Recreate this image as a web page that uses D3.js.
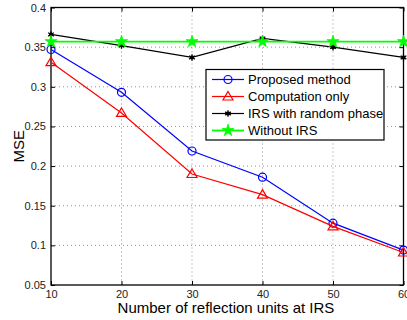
<html>
<head>
  <script src="https://d3js.org/d3.v7.min.js"></script>
  <style>
    body { margin: 0; background: #fff; }
    text { font-family: "Liberation Sans", Arial, sans-serif; }
  </style>
</head>
<body>
<div id="chart"></div>
<script>
  var units = [10, 20, 30, 40, 50, 60];
  var proposed = [0.347, 0.293, 0.219, 0.186, 0.128, 0.094];
  var computation = [0.331, 0.267, 0.190, 0.164, 0.124, 0.091];
  var randomPhase = [0.366, 0.352, 0.337, 0.361, 0.350, 0.337];
  var withoutIRS = [0.357, 0.357, 0.357, 0.357, 0.357, 0.357];
  var yTicks = [0.05, 0.1, 0.15, 0.2, 0.25, 0.3, 0.35, 0.4];
  var yTickLabels = ["0.05", "0.1", "0.15", "0.2", "0.25", "0.3", "0.35", "0.4"];
  var legendNames = ["Proposed method", "Computation only", "IRS with random phase", "Without IRS"];

  var width = 407, height = 320;
  var plotLeft = 51, plotRight = 403.5, plotTop = 7.5, plotBottom = 285;

  var svg = d3.select("#chart").append("svg")
    .attr("width", width).attr("height", height);

  var x = d3.scaleLinear().domain([10, 60]).range([plotLeft, plotRight]);
  var y = d3.scaleLinear().domain([0.05, 0.4]).range([plotBottom, plotTop]);

  // grid
  svg.selectAll("line.vgrid").data(units.slice(1, -1)).enter().append("line")
    .attr("x1", function(d){ return x(d); }).attr("x2", function(d){ return x(d); })
    .attr("y1", plotTop).attr("y2", plotBottom)
    .attr("stroke", "#777").attr("stroke-width", 0.8).attr("stroke-dasharray", "1,3");
  svg.selectAll("line.hgrid").data(yTicks.slice(1, -1)).enter().append("line")
    .attr("y1", function(d){ return y(d); }).attr("y2", function(d){ return y(d); })
    .attr("x1", plotLeft).attr("x2", plotRight)
    .attr("stroke", "#777").attr("stroke-width", 0.8).attr("stroke-dasharray", "1,3");

  // axes (ticks inside)
  svg.append("g").attr("transform", "translate(0," + plotBottom + ")")
    .call(d3.axisBottom(x).tickValues(units).tickSize(-4).tickPadding(5));
  svg.append("g").attr("transform", "translate(" + plotLeft + ",0)")
    .call(d3.axisLeft(y).tickValues(yTicks).tickSize(-4).tickPadding(5)
      .tickFormat(function(d, i){ return yTickLabels[i]; }));
  svg.append("g").attr("transform", "translate(0," + plotTop + ")")
    .call(d3.axisTop(x).tickValues(units).tickSize(-4).tickFormat(""));
  svg.append("g").attr("transform", "translate(" + plotRight + ",0)")
    .call(d3.axisRight(y).tickValues(yTicks).tickSize(-4).tickFormat(""));
  svg.selectAll(".domain").remove();
  svg.selectAll(".tick line").attr("stroke", "#000");
  svg.selectAll(".tick text").style("font-size", "11px").attr("fill", "#222");

  svg.append("rect").attr("x", plotLeft).attr("y", plotTop)
    .attr("width", plotRight - plotLeft).attr("height", plotBottom - plotTop)
    .attr("fill", "none").attr("stroke", "#000").attr("stroke-width", 1.3);

  var line = d3.line().x(function(d, i){ return x(units[i]); }).y(function(d){ return y(d); });

  var series = [
    { vals: proposed, color: "#0000ff", marker: "circle" },
    { vals: computation, color: "#ff0000", marker: "triangle" },
    { vals: randomPhase, color: "#000000", marker: "dot" },
    { vals: withoutIRS, color: "#00ff00", marker: "star" }
  ];

  function drawMarker(g, type, cx, cy, color) {
    if (type == "circle") {
      g.append("circle").attr("cx", cx).attr("cy", cy).attr("r", 4)
        .attr("fill", "none").attr("stroke", color).attr("stroke-width", 1.2);
    } else if (type == "triangle") {
      g.append("path").attr("d", "M" + cx + "," + (cy - 5) + "L" + (cx + 5) + "," + (cy + 3.5) + "L" + (cx - 5) + "," + (cy + 3.5) + "Z")
        .attr("fill", "none").attr("stroke", color).attr("stroke-width", 1.2);
    } else if (type == "dot") {
      g.append("path").attr("d", d3.symbol(d3.symbolAsterisk, 30)())
        .attr("transform", "translate(" + cx + "," + cy + ")")
        .attr("fill", "none").attr("stroke", color).attr("stroke-width", 1.3);
      g.append("circle").attr("cx", cx).attr("cy", cy).attr("r", 2).attr("fill", color);
    } else {
      g.append("path").attr("d", d3.symbol(d3.symbolStar, 45)())
        .attr("transform", "translate(" + cx + "," + cy + ")")
        .attr("fill", color).attr("stroke", color).attr("stroke-width", 0.8);
    }
  }

  var plot = svg.append("g");
  series.forEach(function(s){
    plot.append("path").datum(s.vals).attr("d", line)
      .attr("fill", "none").attr("stroke", s.color).attr("stroke-width", s.marker == "star" ? 1.8 : 1.2);
    s.vals.forEach(function(v, i){
      drawMarker(plot, s.marker, x(units[i]), y(v), s.color);
    });
  });

  // legend
  var lx = 206, ly = 69.5, lw = 178, lh = 70.5;
  svg.append("rect").attr("x", lx).attr("y", ly).attr("width", lw).attr("height", lh)
    .attr("fill", "#fff").attr("stroke", "#000").attr("stroke-width", 1.2);
  legendNames.forEach(function(name, i){
    var yy = ly + 10 + i * 17;
    var s = series[i];
    svg.append("line").attr("x1", lx + 6).attr("x2", lx + 38).attr("y1", yy).attr("y2", yy)
      .attr("stroke", s.color).attr("stroke-width", s.marker == "star" ? 1.8 : 1.2);
    drawMarker(svg, s.marker, lx + 22, yy, s.color);
    svg.append("text").attr("x", lx + 42).attr("y", yy + 4.5).text(name)
      .style("font-size", "13px").attr("fill", "#000");
  });

  // axis labels
  svg.append("text").attr("x", 226).attr("y", 313)
    .attr("text-anchor", "middle").style("font-size", "15px").text("Number of reflection units at IRS");
  svg.append("text").attr("transform", "translate(24," + ((plotTop + plotBottom) / 2) + ") rotate(-90)")
    .attr("text-anchor", "middle").style("font-size", "15px").text("MSE");
</script>
</body>
</html>
